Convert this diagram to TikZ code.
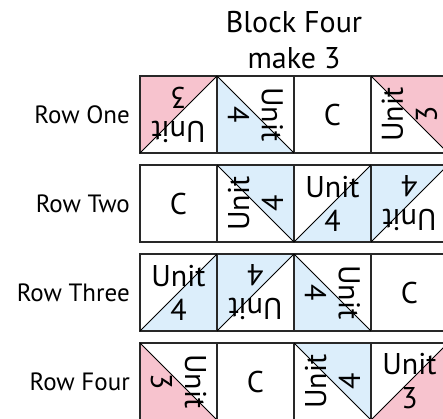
\documentclass[tikz,border=0pt]{standalone}
\usepackage{fontspec}
\setsansfont{PT Sans}
\usepackage{tikz}
\usetikzlibrary{positioning,backgrounds}
\definecolor{quiltpink}{RGB}{247,195,206}
\definecolor{quiltblue}{RGB}{220,238,251}
\definecolor{seam}{RGB}{40,40,40}

\begin{document}
\begin{tikzpicture}[
    x=1pt, y=-1pt,
    font=\sffamily,
    cell/.style={
		rectangle,
		draw=seam,
		line width=1.4pt,
		minimum size=77pt,
		inner sep=0pt,
		outer sep=0pt
	},
	unit/.style={
		align=center,
		inner sep=0pt,
		font=\sffamily\fontsize{30}{34}\selectfont
	},
	rowname/.style={
		inner sep=0pt,
		anchor=east,
		font=\sffamily\fontsize{25}{30}\selectfont
	},
	heading/.style={
		inner sep=0pt,
		anchor=base,
		font=\sffamily\fontsize{30}{36}\selectfont
	},
	seamline/.style={
		draw=black,
		line width=0.9pt
	}
  ]
  \clip (0,0) rectangle (443,418);

    % We start by placing the cells

  \node [cell] (r1c1) at (178.5,114.5) {};
  \node [cell, right=0pt of r1c1] (r1c2) {};
  \node [cell, right=0pt of r1c2] (r1c3) {};
  \node [cell, right=0pt of r1c3] (r1c4) {};

  \node [cell, below=12pt of r1c1] (r2c1) {};
  \node [cell, right=0pt of r2c1] (r2c2) {};
  \node [cell, right=0pt of r2c2] (r2c3) {};
  \node [cell, right=0pt of r2c3] (r2c4) {};

  \node [cell, below=12pt of r2c1] (r3c1) {};
  \node [cell, right=0pt of r3c1] (r3c2) {};
  \node [cell, right=0pt of r3c2] (r3c3) {};
  \node [cell, right=0pt of r3c3] (r3c4) {};

  \node [cell, below=12pt of r3c1] (r4c1) {};
  \node [cell, right=0pt of r4c1] (r4c2) {};
  \node [cell, right=0pt of r4c2] (r4c3) {};
  \node [cell, right=0pt of r4c3] (r4c4) {};

  % coloured halves
  \begin{scope}[on background layer]
  \fill [quiltpink] (r1c1.north west) -- (r1c1.north east) -- (r1c1.south west) -- cycle;
  \fill [quiltblue] (r1c2.north west) -- (r1c2.south west) -- (r1c2.south east) -- cycle;
  \fill [quiltpink] (r1c4.north west) -- (r1c4.north east) -- (r1c4.south east) -- cycle;

  \fill [quiltblue] (r2c2.north west) -- (r2c2.north east) -- (r2c2.south east) -- cycle;
  \fill [quiltblue] (r2c3.south west) -- (r2c3.south east) -- (r2c3.north east) -- cycle;
  \fill [quiltblue] (r2c4.north west) -- (r2c4.north east) -- (r2c4.south west) -- cycle;

  \fill [quiltblue] (r3c1.south west) -- (r3c1.south east) -- (r3c1.north east) -- cycle;
  \fill [quiltblue] (r3c2.north west) -- (r3c2.north east) -- (r3c2.south west) -- cycle;
  \fill [quiltblue] (r3c3.north west) -- (r3c3.south west) -- (r3c3.south east) -- cycle;

  \fill [quiltpink] (r4c1.north west) -- (r4c1.south west) -- (r4c1.south east) -- cycle;
  \fill [quiltblue] (r4c3.north west) -- (r4c3.north east) -- (r4c3.south east) -- cycle;
  \fill [quiltpink] (r4c4.south west) -- (r4c4.south east) -- (r4c4.north east) -- cycle;
  \end{scope}

  % diagonals
  \draw [seamline] (r1c1.south west) -- (r1c1.north east);
  \draw [seamline] (r1c2.north west) -- (r1c2.south east);
  \draw [seamline] (r1c4.north west) -- (r1c4.south east);
  \draw [seamline] (r2c2.north west) -- (r2c2.south east);
  \draw [seamline] (r2c3.south west) -- (r2c3.north east);
  \draw [seamline] (r2c4.south west) -- (r2c4.north east);
  \draw [seamline] (r3c1.south west) -- (r3c1.north east);
  \draw [seamline] (r3c2.south west) -- (r3c2.north east);
  \draw [seamline] (r3c3.north west) -- (r3c3.south east);
  \draw [seamline] (r4c1.north west) -- (r4c1.south east);
  \draw [seamline] (r4c3.north west) -- (r4c3.south east);
  \draw [seamline] (r4c4.south west) -- (r4c4.north east);

  % texts in the cells
  \node [unit, rotate=180] (t11) at (r1c1) {Unit\\3};
  \node [unit, rotate=-90] (t12) at (r1c2) {Unit\\4};
  \node [unit] (t13) at (r1c3) {C};
  \node [unit, rotate=90] (t14) at (r1c4) {Unit\\3};

  \node [unit] (t21) at (r2c1) {C};
  \node [unit, rotate=90] (t22) at (r2c2) {Unit\\4};
  \node [unit] (t23) at (r2c3) {Unit\\4};
  \node [unit, rotate=180] (t24) at (r2c4) {Unit\\4};

  \node [unit] (t31) at (r3c1) {Unit\\4};
  \node [unit, rotate=180] (t32) at (r3c2) {Unit\\4};
  \node [unit, rotate=-90] (t33) at (r3c3) {Unit\\4};
  \node [unit] (t34) at (r3c4) {C};

  \node [unit, rotate=-90] (t41) at (r4c1) {Unit\\3};
  \node [unit] (t42) at (r4c2) {C};
  \node [unit, rotate=90] (t43) at (r4c3) {Unit\\4};
  \node [unit] (t44) at (r4c4) {Unit\\3};

  % row names and heading
  \node [rowname, left=10pt of r1c1] (row1) {Row One};
  \node [rowname, left=10pt of r2c1] (row2) {Row Two};
  \node [rowname, left=10pt of r3c1] (row3) {Row Three};
  \node [rowname, left=10pt of r4c1] (row4) {Row Four};

  \node [heading] (head1) at (294,32) {Block Four};
  \node [heading] (head2) at (294,68) {make 3};

\end{tikzpicture}
\end{document}
